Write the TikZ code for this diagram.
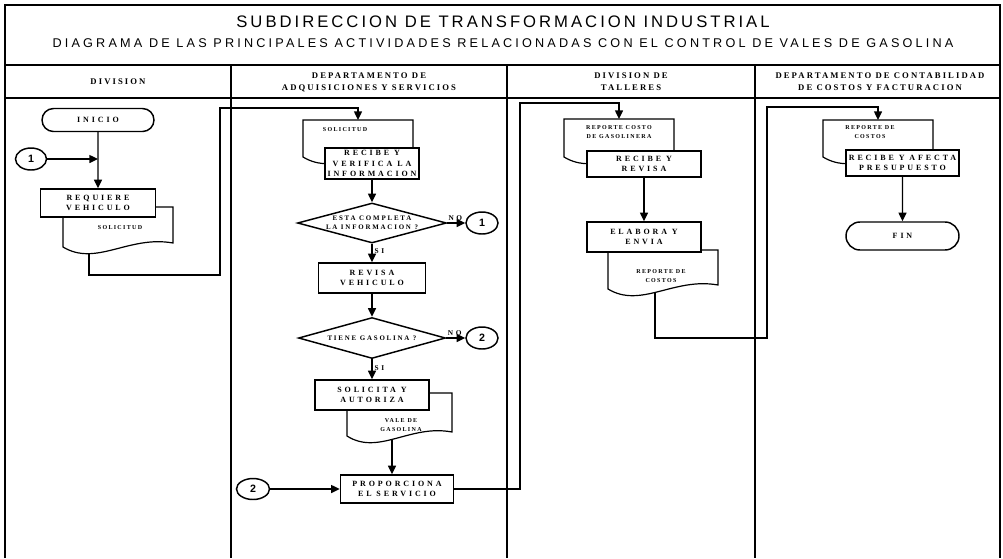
\documentclass[tikz,border=0pt]{standalone}
\usepackage{fontspec}
\setmainfont{Liberation Serif}
\newfontfamily\titlefont[LetterSpace=18]{Liberation Sans}
\newfontfamily\subtitlefont[LetterSpace=25]{Liberation Sans}
\newfontfamily\headfont[LetterSpace=24]{Liberation Serif}
\newfontfamily\boxfont[LetterSpace=36]{Liberation Serif}
\newfontfamily\diafont[LetterSpace=26]{Liberation Serif}
\newfontfamily\docfont[LetterSpace=22]{Liberation Serif}
\newfontfamily\connfont{Liberation Sans}
\usetikzlibrary{shapes.geometric,shapes.misc,arrows.meta}

% document symbol: left x, top y, right x, bottom y of the left corner
\newcommand\docshape[4]{%
  \filldraw[docline] (#3,#2) -- (#1,#2) -- (#1,#4)
    .. controls ({#1+0.3*(#3-#1)},{#4+20}) and ({#1+0.6*(#3-#1)},{#4-12}) .. (#3,{#4-4}) -- cycle;}

\begin{document}
\begin{tikzpicture}[x=0.75pt,y=-0.75pt,
  sz/.style 2 args={minimum width=#1*0.75pt, minimum height=#2*0.75pt},
  frame/.style={line width=1.3pt},
  docline/.style={line width=0.9pt, fill=white},
  box/.style={draw, line width=1.1pt, fill=white, inner sep=0pt, align=center,
    font=\boxfont\bfseries\fontsize{6}{8}\selectfont},
  term/.style={box, rounded rectangle},
  dia/.style={draw, line width=1.1pt, fill=white, diamond, inner sep=0pt},
  diatext/.style={inner sep=0pt, align=center, font=\diafont\bfseries\fontsize{5.2}{6.8}\selectfont},
  conn/.style={draw, line width=1.1pt, fill=white, ellipse, inner sep=0pt,
    font=\connfont\bfseries\fontsize{8}{9}\selectfont},
  doctext/.style={inner sep=0pt, align=center, font=\docfont\bfseries\fontsize{4.5}{6.5}\selectfont},
  head/.style={inner sep=0pt, align=center, font=\headfont\bfseries\fontsize{6.5}{9}\selectfont},
  lbl/.style={inner sep=1.5pt, font=\boxfont\bfseries\fontsize{5.5}{6}\selectfont},
  flow/.style={line width=1pt, -{Triangle[length=6.5pt,width=6pt]}}]
\useasboundingbox (0,0) rectangle (1003,558);

% ---- frame, title and lane headers
\draw[frame] (5,558) -- (5,5) -- (1000,5) -- (1000,558);
\draw[frame] (5,65) -- (1000,65);
\draw[frame] (5,98) -- (1000,98);
\foreach \lx in {231,507,755} \draw[frame] (\lx,65) -- (\lx,558);

\node[font=\titlefont\fontsize{12.5}{14}\selectfont, inner sep=0pt] (title) at (503,22)
  {SUBDIRECCION DE TRANSFORMACION INDUSTRIAL};
\node[font=\subtitlefont\fontsize{9.5}{11}\selectfont, inner sep=0pt] (subtitle) at (503,43)
  {DIAGRAMA DE LAS PRINCIPALES ACTIVIDADES RELACIONADAS CON EL CONTROL DE VALES DE GASOLINA};

\node[head] (h1) at (118,82) {DIVISION};
\node[head] (h2) at (369,82) {DEPARTAMENTO DE\\ADQUISICIONES Y SERVICIOS};
\node[head] (h3) at (631,82) {DIVISION DE\\TALLERES};
\node[head] (h4) at (880,82) {DEPARTAMENTO DE CONTABILIDAD\\DE COSTOS Y FACTURACION};

% ---- lane 1: division
\node[term, sz={112}{23}] (inicio) at (98,120) {INICIO};
\node[conn, sz={31}{22}] (c1in) at (31,159) {1};
\docshape{63}{207}{173}{247}
\node[box, sz={115}{28}] (req) at (98,203) {REQUIERE\\VEHICULO};
\node[doctext] (sol1t) at (120,228) {SOLICITUD};
\coordinate (sol1b) at (89,253.5);
\draw[flow] (inicio) -- (req);
\draw[flow] (c1in) -- (inicio.south |- c1in);

% ---- lane 2: adquisiciones y servicios
\coordinate (r1) at (220,275);
\coordinate (r2) at (220,108);
\coordinate (sol2top) at (358,120);
\draw[flow] (sol1b) |- (r1) -- (r2) -| (sol2top);

\docshape{303}{120}{413}{157}
\node[doctext] (sol2t) at (345,130) {SOLICITUD};
\node[box, sz={94}{31}] (rec2) at (372,163.5) {RECIBE Y\\VERIFICA LA\\INFORMACION};

\node[dia, sz={149}{40}] (d1) at (372,223) {};
\node[diatext] (d1t) at (d1) {ESTA COMPLETA\\LA INFORMACION ?};
\node[conn, sz={32}{22}] (c1out) at (482,223) {1};
\draw[flow] (rec2) -- (d1);
\draw[flow] (d1.east) -- node[lbl, above, pos=0.45] (no1) {NO} (c1out);

\node[box, sz={107}{30}] (rev) at (372,278) {REVISA\\VEHICULO};
\draw[flow] (d1.south) -- node[lbl, right, pos=0.4] (si1) {SI} (rev.north);

\node[dia, sz={147}{41}] (d2) at (372,338) {};
\node[diatext] (d2t) at (d2) {TIENE GASOLINA ?};
\node[conn, sz={32}{22}] (c2out) at (482,338) {2};
\draw[flow] (rev) -- (d2);
\draw[flow] (d2.east) -- node[lbl, above, pos=0.45] (no2) {NO} (c2out);

\docshape{347}{393}{452}{436}
\node[box, sz={114}{30}] (sol) at (372,395) {SOLICITA Y\\AUTORIZA};
\node[doctext] (valet) at (401,425) {VALE DE\\GASOLINA};
\draw[flow] (d2.south) -- node[lbl, right, pos=0.45] (si2) {SI} (sol.north);

\coordinate (valeb) at (392,439.5);
\node[box, sz={113}{28}] (prop) at (397,489) {PROPORCIONA\\EL SERVICIO};
\draw[flow] (valeb) -- (valeb |- prop.north);
\node[conn, sz={33}{21}] (c2in) at (253,489) {2};
\draw[flow] (c2in) -- (prop);

% ---- lane 3: division de talleres
\coordinate (r3) at (520,489);
\coordinate (r4) at (520,103);
\coordinate (rep3top) at (619,119);
\draw[flow] (prop.east) -- (r3) -- (r4) -| (rep3top);

\docshape{564}{119}{674}{157}
\node[doctext] (rep3t) at (619,132) {REPORTE COSTO\\DE GASOLINERA};
\node[box, sz={114}{26}] (rec3) at (644,164) {RECIBE Y\\REVISA};
\docshape{608}{250}{718}{289}
\node[box, sz={114}{30}] (elab) at (644,237) {ELABORA Y\\ENVIA};
\draw[flow] (rec3) -- (elab);
\node[doctext] (rep3bt) at (661,276) {REPORTE DE\\COSTOS};
\coordinate (rep3b) at (655,292.3);

% ---- lane 4: contabilidad de costos y facturacion
\coordinate (r5) at (767,338);
\coordinate (r6) at (767,107);
\coordinate (rep4top) at (878,120);
\draw[flow] (rep3b) |- (r5) -- (r6) -| (rep4top);

\docshape{823}{120}{933}{157}
\node[doctext] (rep4t) at (870,132) {REPORTE DE\\COSTOS};
\node[box, sz={113}{26}] (rec4) at (902.5,163) {RECIBE Y AFECTA\\PRESUPUESTO};
\node[term, sz={113}{28}] (fin) at (902.5,236) {FIN};
\draw[flow] (rec4) -- (fin);
\end{tikzpicture}
\end{document}
